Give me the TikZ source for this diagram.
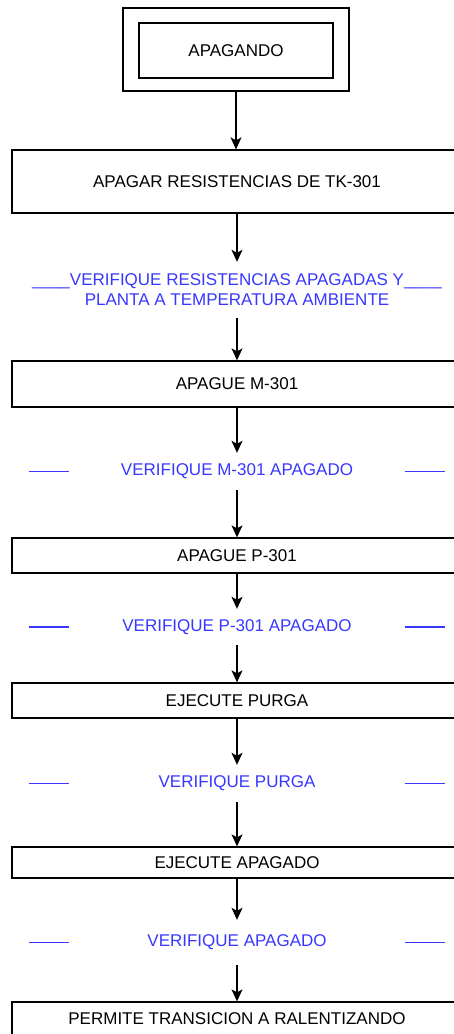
\documentclass[tikz,border=0pt]{standalone}
\usepackage{fontspec}
\setmainfont{Liberation Sans}
\usepackage{xcolor}
\usepackage{tikz}
\usetikzlibrary{arrows.meta}
\usetikzlibrary{positioning}

\definecolor{verifblue}{RGB}{55,55,255}

\begin{document}
\begin{tikzpicture}[x=1pt,y=-1pt,font=\fontsize{17}{20}\selectfont,
		etapa/.style={draw,line width=1.3pt,minimum width=450pt,inner sep=0pt},
		verif/.style={text=verifblue,inner sep=0pt,align=center},
		flecha/.style={-{Stealth[length=12pt,width=11pt,inset=3pt]},line width=1.3pt},
		barra/.style={verifblue,line width=1.3pt}]
		\useasboundingbox (0,0) rectangle (454,1034);
		\clip (0,0) rectangle (454,1034);
		% etapa inicial
		\node[draw,line width=1.3pt,minimum width=226pt,minimum height=83pt] (inicio) at (236,49.5) {};
		\node[draw,line width=1.3pt,minimum width=194pt,minimum height=55pt] (inicioin) at (236,50.5) {APAGANDO};
		% etapas
		\node[etapa,minimum height=63pt] (e1) at (237,181.5) {APAGAR RESISTENCIAS DE TK-301};
		\node[etapa,minimum height=46pt] (e2) at (237,384) {APAGUE M-301};
		\node[etapa,minimum height=35pt] (e3) at (237,555.5) {APAGUE P-301};
		\node[etapa,minimum height=35pt] (e4) at (237,700.5) {EJECUTE PURGA};
		\node[etapa,minimum height=31pt] (e5) at (237,862.5) {EJECUTE APAGADO};
		\node[etapa,minimum height=34pt] (e6) at (237,1019) {PERMITE TRANSICION A RALENTIZANDO};
		% transiciones
		\node[verif,minimum height=56pt] (t1) at (237,290) {\_\_\_\_VERIFIQUE RESISTENCIAS APAGADAS Y\_\_\_\_\\PLANTA A TEMPERATURA AMBIENTE};
		\node[verif,minimum height=37pt] (t2) at (237,471.5) {VERIFIQUE M-301 APAGADO};
		\node[verif,minimum height=36pt] (t3) at (237,627) {VERIFIQUE P-301 APAGADO};
		\node[verif,minimum height=37pt] (t4) at (237,783.5) {VERIFIQUE PURGA};
		\node[verif,minimum height=45pt] (t5) at (237,942.5) {VERIFIQUE APAGADO};
		\foreach \t in {t2,t3,t4,t5}
		\draw[barra] (\t.center) ++(-208,0) -- ++(40,0) (\t.center) ++(168,0) -- ++(40,0);
		% flechas
		\draw[flecha] (inicio.south) -- (inicio.south |- e1.north);
		\draw[flecha] (e1) -- (t1);
		\draw[flecha] (t1) -- (e2);
		\draw[flecha] (e2) -- (t2);
		\draw[flecha] (t2) -- (e3);
		\draw[flecha] (e3) -- (t3);
		\draw[flecha] (t3) -- (e4);
		\draw[flecha] (e4) -- (t4);
		\draw[flecha] (t4) -- (e5);
		\draw[flecha] (e5) -- (t5);
		\draw[flecha] (t5) -- (e6);
	\end{tikzpicture}
\end{document}
